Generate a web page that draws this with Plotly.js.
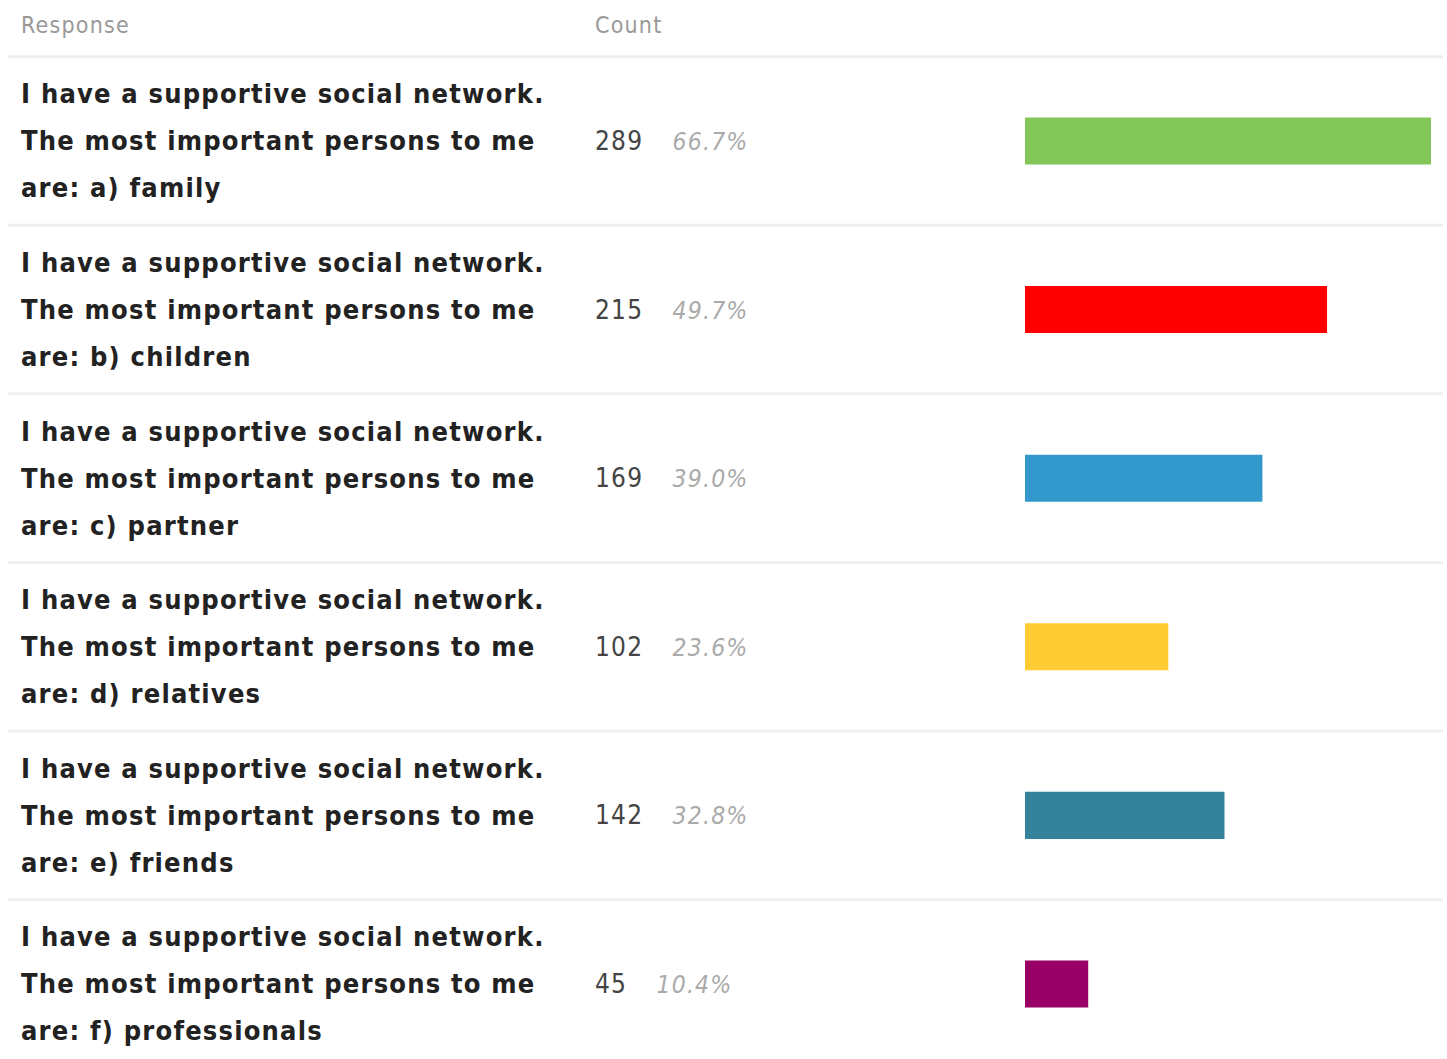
<!DOCTYPE html>
<html>
<head>
<meta charset="utf-8">
<script src="https://cdn.plot.ly/plotly-3.0.1.min.js"></script>
<style>
html,body{margin:0;padding:0;background:#fff;}
#chart{width:1447px;height:1059px;}
.annotation-text{letter-spacing:1.2px;font-stretch:condensed;}
</style>
</head>
<body>
<div id="chart"></div>
<script>
const responsePrefix = ["I have a supportive social network.", "The most important persons to me"];
const responseItems = ["are: a) family", "are: b) children", "are: c) partner", "are: d) relatives", "are: e) friends", "are: f) professionals"];
const counts = [289, 215, 169, 102, 142, 45];
const percents = ["66.7%", "49.7%", "39.0%", "23.6%", "32.8%", "10.4%"];
const barColors = ["#82c65a", "#ff0000", "#3399cc", "#ffcc33", "#33839b", "#990066"];
const headers = ["Response", "Count"];

const idx = responseItems.map((_, i) => i);

const trace = {
  type: "bar",
  orientation: "h",
  x: counts,
  y: idx,
  width: 0.279,
  marker: {color: barColors},
  hoverinfo: "skip"
};

const annotations = [];
const labelFont = {family: "DejaVu Sans Condensed", size: 27, color: "#222", weight: 700};
idx.forEach(i => {
  const lines = [responsePrefix[0], responsePrefix[1], responseItems[i]];
  lines.forEach((t, k) => {
    annotations.push({
      xref: "paper", yref: "y", x: 19/1447, y: i, yshift: 47 - 47*k,
      xanchor: "left", yanchor: "middle", showarrow: false,
      text: "<b>" + t + "</b>", font: labelFont
    });
  });
  annotations.push({
    xref: "paper", yref: "y", x: 593/1447, y: i,
    xanchor: "left", yanchor: "middle", showarrow: false,
    text: counts[i] + "&nbsp;&nbsp;&nbsp;<i><span style='color:#aaaaaa;font-size:24.5px;font-family:DejaVu Sans'>&#8202;" + percents[i] + "</span></i>",
    font: {family: "DejaVu Sans Condensed", size: 26, color: "#444"}
  });
});
annotations.push({
  xref: "paper", yref: "paper", x: 19/1447, y: 1 - 25/1059,
  xanchor: "left", yanchor: "middle", showarrow: false,
  text: headers[0], font: {family: "DejaVu Sans Condensed", size: 23, color: "#999"}
});
annotations.push({
  xref: "paper", yref: "paper", x: 593/1447, y: 1 - 25/1059,
  xanchor: "left", yanchor: "middle", showarrow: false,
  text: headers[1], font: {family: "DejaVu Sans Condensed", size: 23, color: "#999"}
});

const shapes = [];
for (let i = 0; i < counts.length; i++) {
  shapes.push({
    type: "line", xref: "paper", yref: "y",
    x0: 8/1447, x1: 1443/1447, y0: i - 0.5, y1: i - 0.5,
    line: {color: "#efefef", width: 3}, layer: "below"
  });
}

const layout = {
  width: 1447, height: 1059,
  margin: {l: 0, r: 0, t: 0, b: 0},
  paper_bgcolor: "#fff", plot_bgcolor: "#fff",
  showlegend: false,
  xaxis: {domain: [1025/1447, 1431/1447], range: [0, 289], visible: false, fixedrange: true},
  yaxis: {domain: [0, 1], range: [5.445, -0.836], visible: false, fixedrange: true},
  annotations: annotations,
  shapes: shapes
};

Plotly.newPlot("chart", [trace], layout, {displayModeBar: false, staticPlot: true});
</script>
</body>
</html>
